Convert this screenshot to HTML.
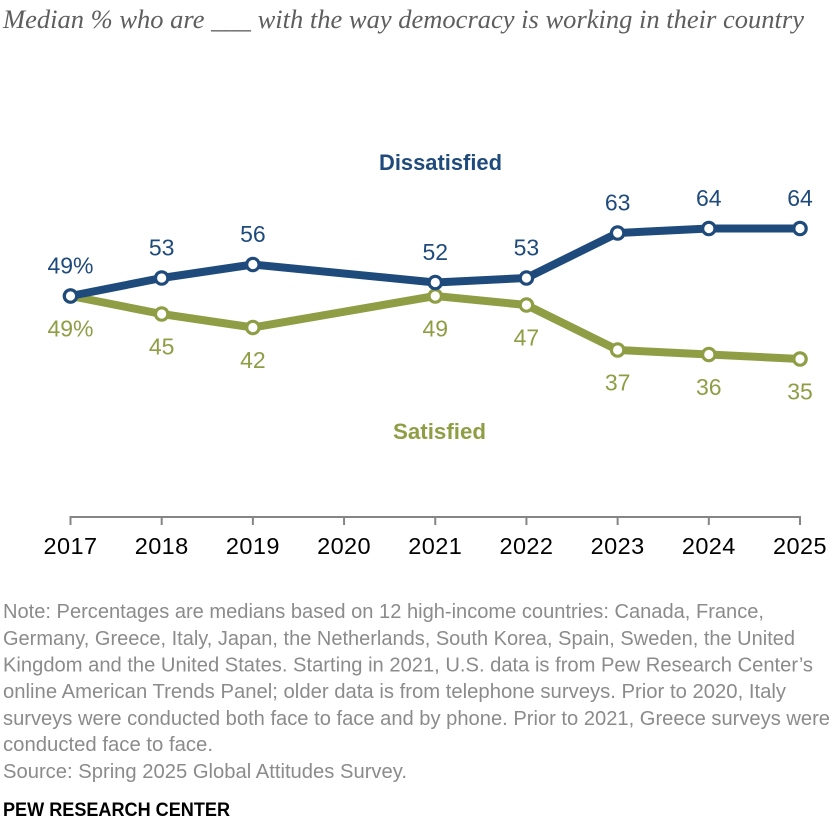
<!DOCTYPE html>
<html lang="en">
<head>
<meta charset="utf-8">
<title>Median % satisfied with democracy</title>
<style>
html,body{margin:0;padding:0;background:#fff;width:840px;height:832px;overflow:hidden}
svg{display:block}
text{font-family:"Liberation Sans",sans-serif}
.note{font-size:20.5px;fill:#8b8b8b}
</style>
</head>
<body>
<svg id="chart" width="840" height="832" viewBox="0 0 840 832" xmlns="http://www.w3.org/2000/svg">
  <text x="3" y="28" textLength="801" lengthAdjust="spacingAndGlyphs" style="font-family:'Liberation Serif',serif;font-style:italic;font-size:26px;fill:#5e5e5e">Median % who are ___ with the way democracy is working in their country</text>

  <g id="x-axis"></g>
  <g id="series-satisfied"></g>
  <g id="series-dissatisfied"></g>

  <text x="379" y="170" textLength="123" lengthAdjust="spacingAndGlyphs" style="font-size:22px;font-weight:bold;fill:#1f4a7c">Dissatisfied</text>
  <text x="393" y="439" textLength="93" lengthAdjust="spacingAndGlyphs" style="font-size:22px;font-weight:bold;fill:#8f9e45">Satisfied</text>

  <g>
    <text class="note" x="3" y="618" textLength="761" lengthAdjust="spacingAndGlyphs">Note: Percentages are medians based on 12 high-income countries: Canada, France,</text>
    <text class="note" x="3" y="645" textLength="792" lengthAdjust="spacingAndGlyphs">Germany, Greece, Italy, Japan, the Netherlands, South Korea, Spain, Sweden, the United</text>
    <text class="note" x="3" y="671.5" textLength="810" lengthAdjust="spacingAndGlyphs">Kingdom and the United States. Starting in 2021, U.S. data is from Pew Research Center’s</text>
    <text class="note" x="3" y="698" textLength="783" lengthAdjust="spacingAndGlyphs">online American Trends Panel; older data is from telephone surveys. Prior to 2020, Italy</text>
    <text class="note" x="3" y="725" textLength="827" lengthAdjust="spacingAndGlyphs">surveys were conducted both face to face and by phone. Prior to 2021, Greece surveys were</text>
    <text class="note" x="3" y="751" textLength="210" lengthAdjust="spacingAndGlyphs">conducted face to face.</text>
    <text class="note" x="3" y="778" textLength="404" lengthAdjust="spacingAndGlyphs">Source: Spring 2025 Global Attitudes Survey.</text>
  </g>
  <text x="3" y="816" textLength="227" lengthAdjust="spacingAndGlyphs" style="font-size:19px;font-weight:bold;fill:#000">PEW RESEARCH CENTER</text>
</svg>
<script>
const years = [2017, 2018, 2019, 2020, 2021, 2022, 2023, 2024, 2025];
const dissatisfiedYears = [2017, 2018, 2019, 2021, 2022, 2023, 2024, 2025];
const dissatisfiedValues = [49, 53, 56, 52, 53, 63, 64, 64];
const satisfiedYears = [2017, 2018, 2019, 2021, 2022, 2023, 2024, 2025];
const satisfiedValues = [49, 45, 42, 49, 47, 37, 36, 35];

const NS = 'http://www.w3.org/2000/svg';
const BLUE = '#1f4a7c';
const OLIVE = '#8f9e45';

function xScale(year) {
  return 70.5 + (year - 2017) * (800 - 70.5) / 8;
}
function yScale(value) {
  return 516.5 - value * 4.5;
}
function make(tag, parent, attrs) {
  const el = document.createElementNS(NS, tag);
  Object.keys(attrs).forEach(function (k) { el.setAttribute(k, attrs[k]); });
  parent.appendChild(el);
  return el;
}

const axisGroup = document.getElementById('x-axis');
const axisLine = make('line', axisGroup, {
  x1: xScale(years[0]), x2: xScale(years[years.length - 1]), y1: 517, y2: 517,
  stroke: '#858585', 'stroke-width': 2
});



years.forEach(function (year) {
  const tick = make('line', axisGroup, {
    x1: xScale(year), x2: xScale(year), y1: 516, y2: 525,
    stroke: '#858585', 'stroke-width': 2
  });
  
  
  const label = make('text', axisGroup, {
    x: xScale(year), y: 554, 'text-anchor': 'middle', 'font-size': '23.5px', fill: '#000',
    'letter-spacing': '0.4'
  });
  
  
  label.textContent = String(year);
});

function drawSeries(groupId, seriesYears, values, color, labelOffset, name) {
  const group = document.getElementById(groupId);
  const pts = seriesYears.map(function (y, i) {
    return xScale(y) + ',' + yScale(values[i]);
  }).join(' ');
  const line = make('polyline', group, {
    points: pts, fill: 'none', stroke: color, 'stroke-width': 8, 'stroke-linejoin': 'round'
  });
  
  

  seriesYears.forEach(function (y, i) {
    const point = make('circle', group, {
      cx: xScale(y), cy: yScale(values[i]), r: 6.2, fill: '#fff', stroke: color, 'stroke-width': 3.2
    });
    
    
    const label = make('text', group, {
      x: xScale(y), y: yScale(values[i]) + labelOffset, 'text-anchor': 'middle',
      'font-size': '23px', fill: color
    });
    
    
    label.textContent = values[i] + (i === 0 ? '%' : '');
  });
}

drawSeries('series-satisfied', satisfiedYears, satisfiedValues, OLIVE, 40.7, 'satisfied');
drawSeries('series-dissatisfied', dissatisfiedYears, dissatisfiedValues, BLUE, -22.7, 'dissatisfied');
</script>
</body>
</html>
